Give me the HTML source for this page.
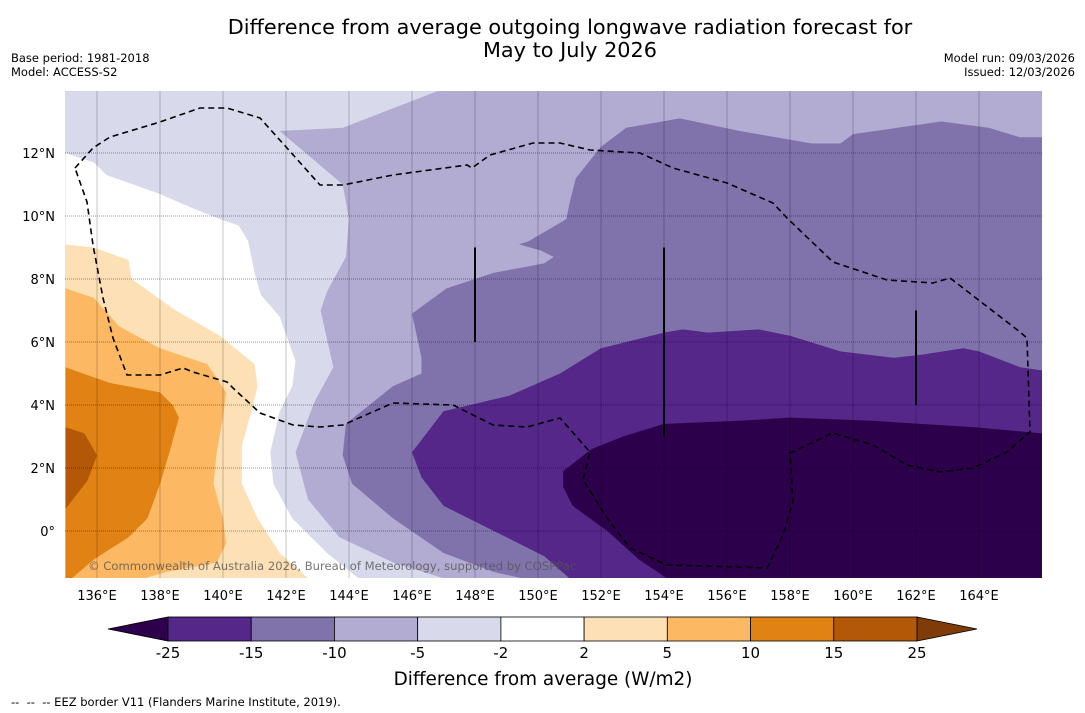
<!DOCTYPE html>
<html><head><meta charset="utf-8">
<style>
body{margin:0;background:#fff;}
svg{display:block;font-family:"DejaVu Sans","Liberation Sans",sans-serif;}
</style></head>
<body>
<svg id="chart" width="1085" height="713" viewBox="0 0 1085 713" xmlns="http://www.w3.org/2000/svg">
<text x="570" y="34" font-size="20.8" text-anchor="middle" fill="#000">Difference from average outgoing longwave radiation forecast for</text>
<text x="570" y="57" font-size="20.8" text-anchor="middle" fill="#000">May to July 2026</text>
<text x="11" y="62" font-size="11.5">Base period: 1981-2018</text>
<text x="11" y="76" font-size="11.5">Model: ACCESS-S2</text>
<text x="1075" y="62" font-size="11.5" text-anchor="end">Model run: 09/03/2026</text>
<text x="1075" y="76" font-size="11.5" text-anchor="end">Issued: 12/03/2026</text>
<defs><clipPath id="mapclip"><rect x="65" y="91" width="977" height="487"/></clipPath></defs>
<g id="map" clip-path="url(#mapclip)"></g>
<g id="axes"></g>
<g id="cbar"></g>
<text x="543" y="685" font-size="18.4" text-anchor="middle">Difference from average (W/m2)</text>
<text x="11" y="706" font-size="11.5" xml:space="preserve">--  --  -- EEZ border V11 (Flanders Marine Institute, 2019).</text>
</svg>
<script>
const lonTicks=[136,138,140,142,144,146,148,150,152,154,156,158,160,162,164];
const latTicks=[0,2,4,6,8,10,12];
const latTickLabels=["0°","2°N","4°N","6°N","8°N","10°N","12°N"];
const cbarLevels=["-25","-15","-10","-5","-2","2","5","10","15","25"];
const cbarColors=["#542788","#8073ac","#b2abd2","#d8daeb","#ffffff","#fee0b6","#fdb863","#e08214","#b35806"];
const cbarLow="#2d004b", cbarHigh="#7f3b08";
const contourWhite=[[135.0,12.0],[135.9,11.7],[136.3,11.3],[138.0,10.7],[138.9,10.3],[139.9,9.9],[140.5,9.7],[140.8,9.2],[141.0,8.2],[141.2,7.5],[141.8,6.8],[142.3,5.4],[142.2,4.6],[141.8,3.8],[141.5,2.5],[141.6,1.5],[142.2,0.4],[143.3,-0.7],[144.3,-1.5],[135.0,-1.5]];
const contourP2=[[135.0,9.1],[135.9,9.0],[137.0,8.6],[137.1,8.0],[138.5,7.0],[139.9,6.2],[141.0,5.3],[141.1,4.6],[140.9,3.8],[140.6,2.7],[140.6,1.5],[141.1,0.4],[141.8,-0.7],[142.7,-1.5],[135.0,-1.5]];
const contourP5=[[135.0,7.7],[135.9,7.4],[136.7,6.5],[138.0,5.8],[139.5,5.3],[140.1,4.4],[140.0,3.6],[139.8,2.5],[139.7,1.5],[140.0,0.4],[140.1,-0.4],[139.8,-1.0],[138.2,-1.3],[137.5,-1.5],[135.0,-1.5]];
const contourP10=[[135.0,5.2],[136.4,4.7],[138.0,4.4],[138.4,4.0],[138.6,3.6],[138.3,2.5],[138.0,1.5],[137.6,0.4],[137.0,-0.2],[135.9,-0.9],[135.2,-1.5],[135.0,-1.5]];
const contourP15=[[135.0,3.3],[135.6,3.1],[136.0,2.4],[135.7,1.6],[135.0,0.7]];
const contourN5=[[146.9,14.0],[166,14],[166,-1.5],[147.0,-1.5],[145.4,-1.0],[143.7,-0.2],[142.7,1.0],[142.3,2.5],[142.9,4.1],[143.5,5.2],[143.1,7.0],[143.3,7.6],[143.9,8.7],[144.0,9.9],[143.8,11.0],[141.8,12.7],[143.8,12.8]];
const contourN10=[[166,12.5],[165.3,12.5],[164.3,12.8],[162.8,13.0],[160.0,12.6],[159.6,12.3],[158.7,12.3],[156.4,12.7],[154.5,13.1],[152.8,12.8],[152.0,12.2],[151.2,11.2],[151.0,10.4],[150.9,9.9],[149.7,9.2],[149.4,9.1],[150.1,8.9],[150.5,8.7],[150.2,8.5],[149.7,8.4],[148.6,8.2],[147.1,7.7],[146.0,6.9],[146.3,5.5],[146.3,5.0],[145.4,4.6],[143.9,3.4],[143.8,2.4],[144.1,1.5],[145.4,0.4],[147.0,-0.7],[148.6,-1.3],[149.5,-1.5],[166,-1.5]];
const contourN15=[[166,5.1],[165.3,5.2],[164.0,5.7],[163.5,5.8],[162.2,5.6],[161.3,5.5],[159.6,5.7],[158.0,6.2],[157.0,6.4],[155.4,6.3],[154.6,6.4],[154.0,6.3],[152.0,5.8],[150.7,5.0],[149.1,4.3],[147.0,3.8],[146.0,2.5],[146.3,1.7],[147.0,0.8],[148.6,0.0],[150.2,-0.8],[151.0,-1.5],[166,-1.5]];
const contourN25=[[166,3.1],[163.8,3.3],[160.6,3.5],[158.0,3.6],[156.4,3.5],[154.0,3.4],[152.7,3.0],[151.7,2.6],[150.8,1.9],[150.8,1.4],[151.1,0.8],[152.2,0.0],[153.2,-0.9],[154.1,-1.5],[166,-1.5]];
const transectLons=[148,154,162];
const transectTop=[9,9,7];
const transectBottom=[6,3,4];

const NS="http://www.w3.org/2000/svg";
const X=lon=>97+(lon-136)*31.5;
const Y=lat=>531-lat*31.5;
const mk=(t,a,p)=>{const e=document.createElementNS(NS,t);for(const k in a)e.setAttribute(k,a[k]);p.appendChild(e);return e;};
const map=document.getElementById('map'),axes=document.getElementById('axes'),cb=document.getElementById('cbar');

let bg=mk('rect',{x:65,y:91,width:977,height:487,fill:'#d8daeb'},map);


const layers=[["band-minus2-2",contourWhite,"#ffffff"],["band-2-5",contourP2,"#fee0b6"],["band-5-10",contourP5,"#fdb863"],["band-10-15",contourP10,"#e08214"],["band-15-25",contourP15,"#b35806"],["band-minus10-minus5",contourN5,"#b2abd2"],["band-minus15-minus10",contourN10,"#8073ac"],["band-minus25-minus15",contourN15,"#542788"],["band-below-minus25",contourN25,"#2d004b"]];
layers.forEach(l=>{
  const p=mk('polygon',{points:l[1].map(q=>X(q[0]).toFixed(1)+','+Y(q[1]).toFixed(1)).join(' '),fill:l[2]},map);
  
  
});
lonTicks.forEach(lo=>{
  const g=mk('line',{x1:X(lo),x2:X(lo),y1:91,y2:578,stroke:'rgba(0,0,0,0.28)','stroke-width':0.8},map);
  
  
});
latTicks.forEach(la=>{
  const g=mk('line',{x1:65,x2:1042,y1:Y(la),y2:Y(la),stroke:'rgba(0,0,0,0.4)','stroke-width':0.9,'stroke-dasharray':'1,1'},map);
  
  
});
const eez=mk('path',{d:"M75,168 L93,148 L110,137 L160,122 L200,108 L227,108 L260,118 L287,148 L320,185 L343,185 L393,175 L467,165 L472,168 L490,155 L533,143 L560,143 L590,150 L640,153 L673,168 L727,183 L773,203 L787,218 L833,262 L887,280 L933,283 L950,278 L1020,332 L1027,338 L1030,432 L1007,452 L973,468 L940,472 L907,465 L873,445 L833,433 L790,453 L793,502 L783,535 L767,568 L667,565 L630,548 L607,518 L583,480 L590,452 L560,418 L527,427 L493,425 L453,405 L393,403 L343,425 L320,427 L293,425 L260,413 L233,388 L227,382 L193,372 L183,368 L160,375 L127,375 L113,338 L103,298 L93,245 L87,202 Z",fill:'none',stroke:'#000','stroke-width':1.6,'stroke-dasharray':'6,4'},map);


transectLons.forEach((lo,i)=>{
  const t=mk('line',{x1:X(lo),x2:X(lo),y1:Y(transectTop[i]),y2:Y(transectBottom[i]),stroke:'#000','stroke-width':2},map);
  
  
});
const cr=mk('text',{x:88,y:570,'font-size':11.6,fill:'#555','fill-opacity':0.8},map);
cr.textContent="© Commonwealth of Australia 2026, Bureau of Meteorology, supported by COSPPac";


lonTicks.forEach(lo=>{
  const t=mk('text',{x:X(lo),y:600,'font-size':13,'text-anchor':'middle'},axes);
  t.textContent=lo+"°E";
  
  
});
latTicks.forEach((la,i)=>{
  const t=mk('text',{x:55,y:Y(la)+5,'font-size':13,'text-anchor':'end'},axes);
  t.textContent=latTickLabels[i];
  
  
});
const c0=168,cw=(917-168)/cbarColors.length,cy=617,ch=24;
const lt=mk('polygon',{points:`108,${cy+ch/2} ${c0},${cy} ${c0},${cy+ch}`,fill:cbarLow,stroke:'#000','stroke-width':0.8},cb);


const rt=mk('polygon',{points:`977,${cy+ch/2} 917,${cy} 917,${cy+ch}`,fill:cbarHigh,stroke:'#000','stroke-width':0.8},cb);


cbarColors.forEach((c,i)=>{
  const r=mk('rect',{x:c0+i*cw,y:cy,width:cw,height:ch,fill:c,stroke:'#000','stroke-width':0.8},cb);
  
  
});
cbarLevels.forEach((v,i)=>{
  const t=mk('text',{x:c0+i*cw,y:658,'font-size':15,'text-anchor':'middle'},cb);
  t.textContent=v;
  
  
});
</script>
</body></html>
